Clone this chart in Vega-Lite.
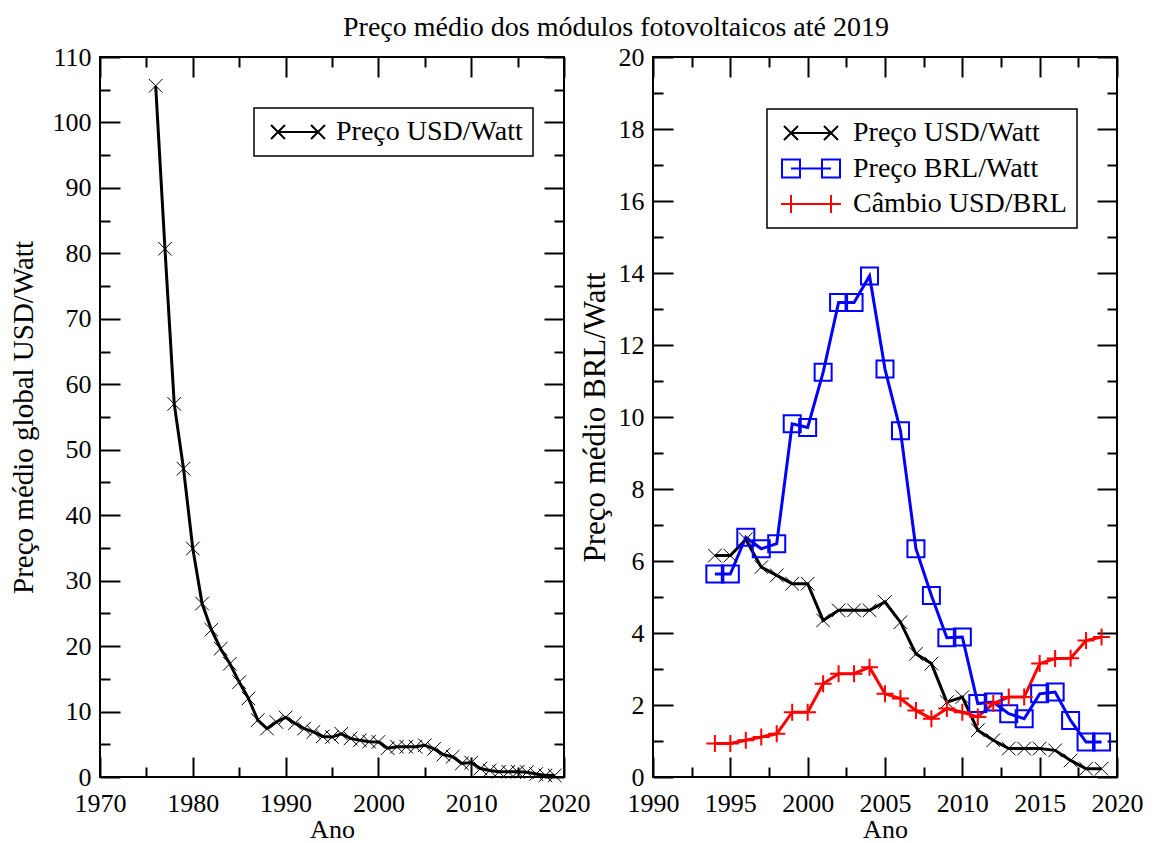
{
  "$schema": "https://vega.github.io/schema/vega-lite/v6.json",
  "background": "white",
  "padding": {"left": 8, "top": 14, "right": 5, "bottom": 2},
  "title": {"text": "Preço médio dos módulos fotovoltaicos até 2019", "font": "Liberation Serif", "fontSize": 28, "fontWeight": "normal", "color": "black", "anchor": "middle", "offset": 1, "dx": 40},
  "spacing": -13,
  "resolve": {"scale": {"color": "independent"}, "legend": {"color": "independent"}},
  "datasets": {
    "left": [
      {"ano": 1976, "serie": "Preço USD/Watt", "valor": 105.6},
      {"ano": 1977, "serie": "Preço USD/Watt", "valor": 80.7},
      {"ano": 1978, "serie": "Preço USD/Watt", "valor": 57.0},
      {"ano": 1979, "serie": "Preço USD/Watt", "valor": 47.1},
      {"ano": 1980, "serie": "Preço USD/Watt", "valor": 34.9},
      {"ano": 1981, "serie": "Preço USD/Watt", "valor": 26.5},
      {"ano": 1982, "serie": "Preço USD/Watt", "valor": 22.5},
      {"ano": 1983, "serie": "Preço USD/Watt", "valor": 19.6},
      {"ano": 1984, "serie": "Preço USD/Watt", "valor": 17.3},
      {"ano": 1985, "serie": "Preço USD/Watt", "valor": 14.5},
      {"ano": 1986, "serie": "Preço USD/Watt", "valor": 12.0},
      {"ano": 1987, "serie": "Preço USD/Watt", "valor": 8.7},
      {"ano": 1988, "serie": "Preço USD/Watt", "valor": 7.4},
      {"ano": 1989, "serie": "Preço USD/Watt", "valor": 8.4},
      {"ano": 1990, "serie": "Preço USD/Watt", "valor": 9.1},
      {"ano": 1991, "serie": "Preço USD/Watt", "valor": 8.2},
      {"ano": 1992, "serie": "Preço USD/Watt", "valor": 7.4},
      {"ano": 1993, "serie": "Preço USD/Watt", "valor": 6.9},
      {"ano": 1994, "serie": "Preço USD/Watt", "valor": 6.2},
      {"ano": 1995, "serie": "Preço USD/Watt", "valor": 6.1},
      {"ano": 1996, "serie": "Preço USD/Watt", "valor": 6.6},
      {"ano": 1997, "serie": "Preço USD/Watt", "valor": 5.9},
      {"ano": 1998, "serie": "Preço USD/Watt", "valor": 5.6},
      {"ano": 1999, "serie": "Preço USD/Watt", "valor": 5.4},
      {"ano": 2000, "serie": "Preço USD/Watt", "valor": 5.35},
      {"ano": 2001, "serie": "Preço USD/Watt", "valor": 4.4},
      {"ano": 2002, "serie": "Preço USD/Watt", "valor": 4.63},
      {"ano": 2003, "serie": "Preço USD/Watt", "valor": 4.63},
      {"ano": 2004, "serie": "Preço USD/Watt", "valor": 4.63},
      {"ano": 2005, "serie": "Preço USD/Watt", "valor": 4.86},
      {"ano": 2006, "serie": "Preço USD/Watt", "valor": 4.3},
      {"ano": 2007, "serie": "Preço USD/Watt", "valor": 3.42},
      {"ano": 2008, "serie": "Preço USD/Watt", "valor": 3.1},
      {"ano": 2009, "serie": "Preço USD/Watt", "valor": 2.08},
      {"ano": 2010, "serie": "Preço USD/Watt", "valor": 2.2},
      {"ano": 2011, "serie": "Preço USD/Watt", "valor": 1.3},
      {"ano": 2012, "serie": "Preço USD/Watt", "valor": 1.0},
      {"ano": 2013, "serie": "Preço USD/Watt", "valor": 0.79},
      {"ano": 2014, "serie": "Preço USD/Watt", "valor": 0.79},
      {"ano": 2015, "serie": "Preço USD/Watt", "valor": 0.79},
      {"ano": 2016, "serie": "Preço USD/Watt", "valor": 0.74},
      {"ano": 2017, "serie": "Preço USD/Watt", "valor": 0.46},
      {"ano": 2018, "serie": "Preço USD/Watt", "valor": 0.25},
      {"ano": 2019, "serie": "Preço USD/Watt", "valor": 0.23}
    ],
    "right": [
      {"ano": 1994, "serie": "Preço USD/Watt", "valor": 6.15},
      {"ano": 1995, "serie": "Preço USD/Watt", "valor": 6.15},
      {"ano": 1996, "serie": "Preço USD/Watt", "valor": 6.6},
      {"ano": 1997, "serie": "Preço USD/Watt", "valor": 5.83},
      {"ano": 1998, "serie": "Preço USD/Watt", "valor": 5.6},
      {"ano": 1999, "serie": "Preço USD/Watt", "valor": 5.37},
      {"ano": 2000, "serie": "Preço USD/Watt", "valor": 5.37},
      {"ano": 2001, "serie": "Preço USD/Watt", "valor": 4.35},
      {"ano": 2002, "serie": "Preço USD/Watt", "valor": 4.63},
      {"ano": 2003, "serie": "Preço USD/Watt", "valor": 4.63},
      {"ano": 2004, "serie": "Preço USD/Watt", "valor": 4.63},
      {"ano": 2005, "serie": "Preço USD/Watt", "valor": 4.86},
      {"ano": 2006, "serie": "Preço USD/Watt", "valor": 4.3},
      {"ano": 2007, "serie": "Preço USD/Watt", "valor": 3.42},
      {"ano": 2008, "serie": "Preço USD/Watt", "valor": 3.15},
      {"ano": 2009, "serie": "Preço USD/Watt", "valor": 2.08},
      {"ano": 2010, "serie": "Preço USD/Watt", "valor": 2.22},
      {"ano": 2011, "serie": "Preço USD/Watt", "valor": 1.3},
      {"ano": 2012, "serie": "Preço USD/Watt", "valor": 1.02},
      {"ano": 2013, "serie": "Preço USD/Watt", "valor": 0.79},
      {"ano": 2014, "serie": "Preço USD/Watt", "valor": 0.79},
      {"ano": 2015, "serie": "Preço USD/Watt", "valor": 0.79},
      {"ano": 2016, "serie": "Preço USD/Watt", "valor": 0.74},
      {"ano": 2017, "serie": "Preço USD/Watt", "valor": 0.46},
      {"ano": 2018, "serie": "Preço USD/Watt", "valor": 0.23},
      {"ano": 2019, "serie": "Preço USD/Watt", "valor": 0.23},
      {"ano": 1994, "serie": "Preço BRL/Watt", "valor": 5.64},
      {"ano": 1995, "serie": "Preço BRL/Watt", "valor": 5.64},
      {"ano": 1996, "serie": "Preço BRL/Watt", "valor": 6.66},
      {"ano": 1997, "serie": "Preço BRL/Watt", "valor": 6.34},
      {"ano": 1998, "serie": "Preço BRL/Watt", "valor": 6.48},
      {"ano": 1999, "serie": "Preço BRL/Watt", "valor": 9.81},
      {"ano": 2000, "serie": "Preço BRL/Watt", "valor": 9.71},
      {"ano": 2001, "serie": "Preço BRL/Watt", "valor": 11.24},
      {"ano": 2002, "serie": "Preço BRL/Watt", "valor": 13.18},
      {"ano": 2003, "serie": "Preço BRL/Watt", "valor": 13.18},
      {"ano": 2004, "serie": "Preço BRL/Watt", "valor": 13.92},
      {"ano": 2005, "serie": "Preço BRL/Watt", "valor": 11.33},
      {"ano": 2006, "serie": "Preço BRL/Watt", "valor": 9.62},
      {"ano": 2007, "serie": "Preço BRL/Watt", "valor": 6.34},
      {"ano": 2008, "serie": "Preço BRL/Watt", "valor": 5.04},
      {"ano": 2009, "serie": "Preço BRL/Watt", "valor": 3.87},
      {"ano": 2010, "serie": "Preço BRL/Watt", "valor": 3.89},
      {"ano": 2011, "serie": "Preço BRL/Watt", "valor": 2.04},
      {"ano": 2012, "serie": "Preço BRL/Watt", "valor": 2.08},
      {"ano": 2013, "serie": "Preço BRL/Watt", "valor": 1.76},
      {"ano": 2014, "serie": "Preço BRL/Watt", "valor": 1.62},
      {"ano": 2015, "serie": "Preço BRL/Watt", "valor": 2.31},
      {"ano": 2016, "serie": "Preço BRL/Watt", "valor": 2.36},
      {"ano": 2017, "serie": "Preço BRL/Watt", "valor": 1.57},
      {"ano": 2018, "serie": "Preço BRL/Watt", "valor": 0.97},
      {"ano": 2019, "serie": "Preço BRL/Watt", "valor": 0.97},
      {"ano": 1994, "serie": "Câmbio USD/BRL", "valor": 0.93},
      {"ano": 1995, "serie": "Câmbio USD/BRL", "valor": 0.93},
      {"ano": 1996, "serie": "Câmbio USD/BRL", "valor": 1.02},
      {"ano": 1997, "serie": "Câmbio USD/BRL", "valor": 1.11},
      {"ano": 1998, "serie": "Câmbio USD/BRL", "valor": 1.2},
      {"ano": 1999, "serie": "Câmbio USD/BRL", "valor": 1.8},
      {"ano": 2000, "serie": "Câmbio USD/BRL", "valor": 1.8},
      {"ano": 2001, "serie": "Câmbio USD/BRL", "valor": 2.59},
      {"ano": 2002, "serie": "Câmbio USD/BRL", "valor": 2.87},
      {"ano": 2003, "serie": "Câmbio USD/BRL", "valor": 2.87},
      {"ano": 2004, "serie": "Câmbio USD/BRL", "valor": 3.05},
      {"ano": 2005, "serie": "Câmbio USD/BRL", "valor": 2.31},
      {"ano": 2006, "serie": "Câmbio USD/BRL", "valor": 2.18},
      {"ano": 2007, "serie": "Câmbio USD/BRL", "valor": 1.85},
      {"ano": 2008, "serie": "Câmbio USD/BRL", "valor": 1.62},
      {"ano": 2009, "serie": "Câmbio USD/BRL", "valor": 1.9},
      {"ano": 2010, "serie": "Câmbio USD/BRL", "valor": 1.8},
      {"ano": 2011, "serie": "Câmbio USD/BRL", "valor": 1.67},
      {"ano": 2012, "serie": "Câmbio USD/BRL", "valor": 2.04},
      {"ano": 2013, "serie": "Câmbio USD/BRL", "valor": 2.22},
      {"ano": 2014, "serie": "Câmbio USD/BRL", "valor": 2.22},
      {"ano": 2015, "serie": "Câmbio USD/BRL", "valor": 3.15},
      {"ano": 2016, "serie": "Câmbio USD/BRL", "valor": 3.29},
      {"ano": 2017, "serie": "Câmbio USD/BRL", "valor": 3.3},
      {"ano": 2018, "serie": "Câmbio USD/BRL", "valor": 3.79},
      {"ano": 2019, "serie": "Câmbio USD/BRL", "valor": 3.89}
    ]
  },
  "hconcat": [
    {
      "width": 464,
      "height": 720,
      "data": {"name": "left"},
      "resolve": {"axis": {"x": "independent", "y": "independent"}},
      "layer": [
        {
          "mark": {"type": "line", "strokeWidth": 3},
          "encoding": {
            "x": {"field": "ano", "type": "quantitative", "scale": {"domain": [1970, 2020], "nice": false, "zero": false}, "axis": {"orient": "bottom", "values": [1970, 1980, 1990, 2000, 2010, 2020], "format": "d", "tickSize": -20, "labelPadding": 33, "labelFont": "Liberation Serif", "labelFontSize": 26, "title": "Ano", "titlePadding": 0, "titleFontSize": 26}},
            "y": {"field": "valor", "type": "quantitative", "scale": {"domain": [0, 110], "nice": false}, "axis": {"orient": "left", "values": [0, 10, 20, 30, 40, 50, 60, 70, 80, 90, 100, 110], "tickSize": -20, "labelPadding": 29, "labelFont": "Liberation Serif", "labelFontSize": 26, "title": "Preço médio global USD/Watt", "titlePadding": 14, "titleFontSize": 29}},
            "color": {"field": "serie", "type": "nominal", "scale": {"domain": ["Preço USD/Watt"], "range": ["black"]},
              "legend": {"title": null, "orient": "none", "legendX": 154, "legendY": 51, "direction": "vertical", "strokeColor": "black", "padding": 10, "rowPadding": 7.5, "labelFont": "Liberation Serif", "labelFontSize": 28, "labelColor": "black", "labelLimit": 500, "labelOffset": 44, "symbolSize": 400, "symbolStrokeWidth": 2, "symbolOpacity": 1, "symbolFillColor": "transparent",
                "encode": {"symbols": {"update": {"shape": {"value": "M0,0H4M-0.7,-0.7L0.7,0.7M-0.7,0.7L0.7,-0.7M3.3,-0.7L4.7,0.7M3.3,0.7L4.7,-0.7"}, "fill": {"value": "transparent"}}}, "legend": {"update": {"strokeWidth": {"value": 1.5}}}}}}
          }
        },
        {
          "mark": {"type": "point", "filled": false, "size": 289, "strokeWidth": 1, "opacity": 1, "color": "black", "shape": "M-0.8,-0.8L0.8,0.8M-0.8,0.8L0.8,-0.8"},
          "encoding": {
            "x": {"field": "ano", "type": "quantitative", "scale": {"domain": [1970, 2020], "nice": false, "zero": false}, "axis": {"orient": "bottom", "values": [1975, 1985, 1995, 2005, 2015], "tickSize": -10, "labels": false, "title": null}},
            "y": {"field": "valor", "type": "quantitative", "scale": {"domain": [0, 110], "nice": false}, "axis": {"orient": "left", "values": [5, 15, 25, 35, 45, 55, 65, 75, 85, 95, 105], "tickSize": -10, "labels": false, "title": null}}
          }
        },
        {
          "mark": {"type": "point", "opacity": 0},
          "encoding": {
            "x": {"field": "ano", "type": "quantitative", "scale": {"domain": [1970, 2020], "nice": false, "zero": false}, "axis": {"orient": "top", "values": [1970, 1980, 1990, 2000, 2010, 2020], "tickSize": -20, "labels": false, "title": null}},
            "y": {"field": "valor", "type": "quantitative", "scale": {"domain": [0, 110], "nice": false}, "axis": {"orient": "right", "values": [0, 10, 20, 30, 40, 50, 60, 70, 80, 90, 100, 110], "tickSize": -20, "labels": false, "title": null}}
          }
        },
        {
          "mark": {"type": "point", "opacity": 0},
          "encoding": {
            "x": {"field": "ano", "type": "quantitative", "scale": {"domain": [1970, 2020], "nice": false, "zero": false}, "axis": {"orient": "top", "values": [1975, 1985, 1995, 2005, 2015], "tickSize": -10, "labels": false, "title": null}},
            "y": {"field": "valor", "type": "quantitative", "scale": {"domain": [0, 110], "nice": false}, "axis": {"orient": "right", "values": [5, 15, 25, 35, 45, 55, 65, 75, 85, 95, 105], "tickSize": -10, "labels": false, "title": null}}
          }
        }
      ]
    },
    {
      "width": 464,
      "height": 720,
      "data": {"name": "right"},
      "resolve": {"axis": {"x": "independent", "y": "independent"}},
      "layer": [
        {
          "mark": {"type": "line", "strokeWidth": 3},
          "encoding": {
            "x": {"field": "ano", "type": "quantitative", "scale": {"domain": [1990, 2020], "nice": false, "zero": false}, "axis": {"orient": "bottom", "values": [1990, 1995, 2000, 2005, 2010, 2015, 2020], "format": "d", "tickSize": -20, "labelPadding": 33, "labelFont": "Liberation Serif", "labelFontSize": 26, "title": "Ano", "titlePadding": 0, "titleFontSize": 26}},
            "y": {"field": "valor", "type": "quantitative", "scale": {"domain": [0, 20], "nice": false}, "axis": {"orient": "left", "values": [0, 2, 4, 6, 8, 10, 12, 14, 16, 18, 20], "tickSize": -20, "labelPadding": 29, "labelFont": "Liberation Serif", "labelFontSize": 26, "title": "Preço médio BRL/Watt", "titlePadding": 7, "titleFontSize": 31}},
            "color": {"field": "serie", "type": "nominal", "scale": {"domain": ["Preço USD/Watt", "Preço BRL/Watt", "Câmbio USD/BRL"], "range": ["black", "blue", "red"]},
              "legend": {"title": null, "orient": "none", "legendX": 114, "legendY": 52, "direction": "vertical", "strokeColor": "black", "padding": 10, "rowPadding": 7.5, "labelFont": "Liberation Serif", "labelFontSize": 28, "labelColor": "black", "labelLimit": 500, "labelOffset": 48, "symbolSize": 400, "symbolStrokeWidth": 2, "symbolOpacity": 1, "symbolFillColor": "transparent",
                "encode": {"symbols": {"update": {"shape": {"signal": "datum.value === 'Preço USD/Watt' ? 'M0,0H4M-0.7,-0.7L0.7,0.7M-0.7,0.7L0.7,-0.7M3.3,-0.7L4.7,0.7M3.3,0.7L4.7,-0.7' : datum.value === 'Preço BRL/Watt' ? 'M0,0H4M-0.9,-0.9H0.9V0.9H-0.9ZM3.1,-0.9H4.9V0.9H3.1Z' : 'M-1,0H5M0,-0.9V0.9M4,-0.9V0.9'"}, "fill": {"value": "transparent"}}}, "legend": {"update": {"strokeWidth": {"value": 1.5}}}}}}
          }
        },
        {
          "transform": [{"filter": "datum.serie === 'Preço USD/Watt'"}],
          "mark": {"type": "point", "filled": false, "size": 289, "strokeWidth": 1, "opacity": 1, "color": "black", "shape": "M-0.8,-0.8L0.8,0.8M-0.8,0.8L0.8,-0.8"},
          "encoding": {
            "x": {"field": "ano", "type": "quantitative", "scale": {"domain": [1990, 2020], "nice": false, "zero": false}, "axis": {"orient": "bottom", "values": [1992.5, 1997.5, 2002.5, 2007.5, 2012.5, 2017.5], "tickSize": -10, "labels": false, "title": null}},
            "y": {"field": "valor", "type": "quantitative", "scale": {"domain": [0, 20], "nice": false}, "axis": {"orient": "left", "values": [1, 3, 5, 7, 9, 11, 13, 15, 17, 19], "tickSize": -10, "labels": false, "title": null}}
          }
        },
        {
          "transform": [{"filter": "datum.serie === 'Preço BRL/Watt'"}],
          "mark": {"type": "point", "filled": false, "size": 289, "strokeWidth": 2, "opacity": 1, "color": "blue", "shape": "square"},
          "encoding": {
            "x": {"field": "ano", "type": "quantitative", "scale": {"domain": [1990, 2020], "nice": false, "zero": false}, "axis": null},
            "y": {"field": "valor", "type": "quantitative", "scale": {"domain": [0, 20], "nice": false}, "axis": null}
          }
        },
        {
          "transform": [{"filter": "datum.serie === 'Câmbio USD/BRL'"}],
          "mark": {"type": "point", "filled": false, "size": 289, "strokeWidth": 2, "opacity": 1, "color": "red", "shape": "M-1,0H1M0,-1V1"},
          "encoding": {
            "x": {"field": "ano", "type": "quantitative", "scale": {"domain": [1990, 2020], "nice": false, "zero": false}, "axis": null},
            "y": {"field": "valor", "type": "quantitative", "scale": {"domain": [0, 20], "nice": false}, "axis": null}
          }
        },
        {
          "mark": {"type": "point", "opacity": 0},
          "encoding": {
            "x": {"field": "ano", "type": "quantitative", "scale": {"domain": [1990, 2020], "nice": false, "zero": false}, "axis": {"orient": "top", "values": [1990, 1995, 2000, 2005, 2010, 2015, 2020], "tickSize": -20, "labels": false, "title": null}},
            "y": {"field": "valor", "type": "quantitative", "scale": {"domain": [0, 20], "nice": false}, "axis": {"orient": "right", "values": [0, 2, 4, 6, 8, 10, 12, 14, 16, 18, 20], "tickSize": -20, "labels": false, "title": null}}
          }
        },
        {
          "mark": {"type": "point", "opacity": 0},
          "encoding": {
            "x": {"field": "ano", "type": "quantitative", "scale": {"domain": [1990, 2020], "nice": false, "zero": false}, "axis": {"orient": "top", "values": [1992.5, 1997.5, 2002.5, 2007.5, 2012.5, 2017.5], "tickSize": -10, "labels": false, "title": null}},
            "y": {"field": "valor", "type": "quantitative", "scale": {"domain": [0, 20], "nice": false}, "axis": {"orient": "right", "values": [1, 3, 5, 7, 9, 11, 13, 15, 17, 19], "tickSize": -10, "labels": false, "title": null}}
          }
        }
      ]
    }
  ],
  "config": {
    "view": {"stroke": "black", "strokeWidth": 2},
    "axis": {"domain": false, "grid": false, "ticks": true, "tickColor": "black", "tickWidth": 2, "labelFont": "Liberation Serif", "labelFontSize": 26, "labelColor": "black", "titleFont": "Liberation Serif", "titleFontSize": 27, "titleFontWeight": "normal", "titleColor": "black", "labelFlush": false, "labelOverlap": false, "labelBound": false}
  }
}
